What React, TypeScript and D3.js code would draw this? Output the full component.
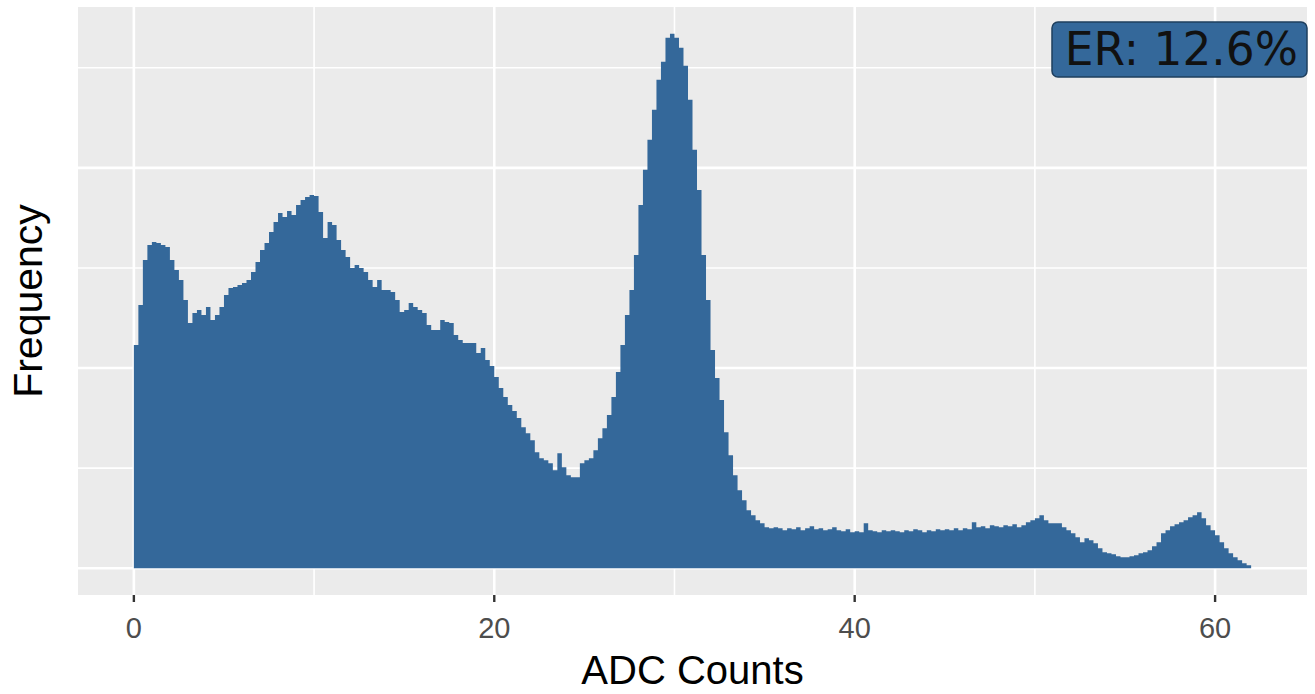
import * as d3 from "d3";

// histogram of ADC counts, bin width 0.25, starting at 0
const binWidth = 0.25;
const counts = [
  2230, 2630, 3080, 3230, 3260, 3250, 3230, 3210, 3080, 2980, 2880, 2680,
  2450, 2550, 2580, 2530, 2610, 2480, 2530, 2610, 2730, 2800, 2810, 2830,
  2850, 2880, 2960, 3060, 3180, 3250, 3360, 3460, 3550, 3510, 3570, 3530,
  3630, 3680, 3710, 3730, 3720, 3560, 3300, 3460, 3430, 3280, 3180, 3110,
  3000, 3030, 3000, 2960, 2880, 2810, 2880, 2780, 2780, 2760, 2680, 2560,
  2580, 2650, 2610, 2580, 2550, 2430, 2380, 2380, 2480, 2460, 2450, 2330,
  2280, 2250, 2250, 2250, 2150, 2200, 2080, 2020, 1910, 1800, 1710, 1630,
  1570, 1500, 1410, 1350, 1280, 1160, 1100, 1080, 1050, 980, 1150, 1010,
  930, 910, 910, 1050, 1080, 1100, 1180, 1300, 1400, 1530, 1710, 1960,
  2230, 2530, 2780, 3130, 3630, 3980, 4280, 4580, 4880, 5060, 5300, 5340,
  5300, 5200, 5020, 4680, 4180, 3780, 3130, 2680, 2180, 1900, 1680, 1360,
  1130, 930, 780, 680, 580, 530, 480, 450, 410, 400, 410, 400,
  380, 400, 390, 410, 380, 400, 420, 390, 400, 380, 390, 410,
  380, 370, 390, 360, 370, 360, 450, 380, 370, 360, 380, 370,
  380, 370, 360, 380, 370, 390, 380, 360, 380, 370, 390, 380,
  390, 380, 400, 380, 400, 390, 460, 410, 420, 400, 430, 420,
  410, 430, 420, 440, 410, 430, 460, 480, 500, 530, 480, 450,
  450, 450, 410, 380, 350, 310, 260, 300, 280, 250, 200, 160,
  150, 140, 120, 110, 110, 120, 130, 150, 160, 180, 220, 260,
  350, 380, 420, 440, 460, 480, 510, 530, 560, 500, 430, 380,
  330, 260, 200, 150, 110, 80, 50, 30,
];

const xBreaks = [0, 20, 40, 60];
const xMinor = [10, 30, 50];
const yBreaks = [0, 2000, 4000];
const yMinor = [1000, 3000, 5000];
const labelText = "ER: 12.6%";

const width = 1315;
const height = 694;
const panel = { left: 78, right: 1307, top: 7, bottom: 595 };

export default function App() {
  const bins = counts.map((v, i) => ({ x0: i * binWidth, v }));
  const xMax = counts.length * binWidth;
  const yMax = d3.max(counts) as number;
  const xPad = xMax * 0.05;
  const yPad = yMax * 0.05;

  const x = d3.scaleLinear().domain([-xPad, xMax + xPad]).range([panel.left, panel.right]);
  const y = d3.scaleLinear().domain([-yPad, yMax + yPad]).range([panel.bottom, panel.top]);

  const pts = [...bins, { x0: xMax, v: counts[counts.length - 1] }];
  const area = d3
    .area<{ x0: number; v: number }>()
    .x((d) => x(d.x0))
    .y0(y(0))
    .y1((d) => y(d.v))
    .curve(d3.curveStepAfter);

  const font = "'Liberation Sans', Arial, sans-serif";

  return (
    <svg width={width} height={height} style={{ position: "absolute", left: 0, top: 0, background: "#fff" }}>
      <rect x={panel.left} y={panel.top} width={panel.right - panel.left} height={panel.bottom - panel.top} fill="#EBEBEB" />
      {yMinor.map((t) => (
        <line key={"ym" + t} x1={panel.left} x2={panel.right} y1={y(t)} y2={y(t)} stroke="#fff" strokeWidth={1.6} />
      ))}
      {xMinor.map((t) => (
        <line key={"xm" + t} x1={x(t)} x2={x(t)} y1={panel.top} y2={panel.bottom} stroke="#fff" strokeWidth={1.6} />
      ))}
      {yBreaks.map((t) => (
        <line key={"y" + t} x1={panel.left} x2={panel.right} y1={y(t)} y2={y(t)} stroke="#fff" strokeWidth={2.6} />
      ))}
      {xBreaks.map((t) => (
        <line key={"x" + t} x1={x(t)} x2={x(t)} y1={panel.top} y2={panel.bottom} stroke="#fff" strokeWidth={2.6} />
      ))}
      <path d={area(pts) ?? ""} fill="#34689A" />
      {xBreaks.map((t) => (
        <g key={"t" + t}>
          <line x1={x(t)} x2={x(t)} y1={panel.bottom} y2={panel.bottom + 7} stroke="#333" strokeWidth={2.4} />
          <text x={x(t)} y={638} textAnchor="middle" fontFamily={font} fontSize={29} fill="#4D4D4D">
            {t}
          </text>
        </g>
      ))}
      <text x={(panel.left + panel.right) / 2} y={684} textAnchor="middle" fontFamily={font} fontSize={40} fill="#000">
        ADC Counts
      </text>
      <text
        transform={`translate(42,${(panel.top + panel.bottom) / 2}) rotate(-90)`}
        textAnchor="middle"
        fontFamily={font}
        fontSize={41}
        fill="#000"
      >
        Frequency
      </text>
      <rect x={1052} y={22} width={255} height={55} rx={6} fill="#34689A" stroke="#1E3F5E" strokeWidth={1.5} />
      <text x={1298} y={65} textAnchor="end" fontFamily="'DejaVu Sans', sans-serif" fontSize={45.5} fill="#111">
        {labelText}
      </text>
    </svg>
  );
}
